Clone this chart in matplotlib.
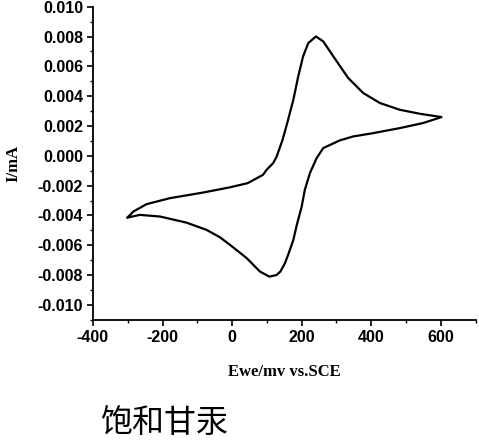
import numpy as np
import matplotlib.pyplot as plt
from matplotlib.ticker import MultipleLocator, FormatStrFormatter

plt.rcParams['axes.unicode_minus'] = False

# ============================================================
# DATOS - voltamperograma cíclico
# ============================================================

# barrido anódico (de -300 mV hacia +600 mV)
E_ida = [-301, -284, -246, -179, -83, -6, 45, 89, 99, 118, 128, 145,
         161, 176, 190, 204, 219, 241, 262, 291, 333, 377, 425, 482,
         540, 602]
I_ida = [-0.00414, -0.00374, -0.00324, -0.00284, -0.00246, -0.00211,
         -0.00183, -0.00127, -0.00094, -0.00049, -0.00005, 0.00107,
         0.00242, 0.00376, 0.00532, 0.00667, 0.00756, 0.00801,
         0.00767, 0.00667, 0.00524, 0.00421, 0.00354, 0.00309,
         0.00282, 0.00260]

# barrido catódico (regreso a -300 mV)
E_vuelta = [602, 549, 482, 405, 348, 310, 262, 243, 224, 209, 200, 186,
            176, 163, 152, 139, 128, 107, 80, 42, -6, -35, -73, -131,
            -207, -265, -301]
I_vuelta = [0.00260, 0.00220, 0.00186, 0.00152, 0.00130, 0.00104,
            0.00052, -0.00015, -0.00114, -0.00228, -0.00340, -0.00463,
            -0.00564, -0.00651, -0.00720, -0.00775, -0.00799, -0.00810,
            -0.00776, -0.00686, -0.00597, -0.00546, -0.00497, -0.00448,
            -0.00407, -0.00396, -0.00414]

E = np.array(E_ida + E_vuelta)
I = np.array(I_ida + I_vuelta)

# ============================================================
# GRÁFICA
# ============================================================

fig = plt.figure(figsize=(4.79, 4.48), dpi=100)
ax = fig.add_axes([0.194, 0.286, 0.799, 0.699])

ax.plot(E, I, color='black', linewidth=1.6,
        solid_joinstyle='round', solid_capstyle='round')

ax.set_xlim(-400, 700)
ax.set_ylim(-0.011, 0.010)

ax.xaxis.set_major_locator(MultipleLocator(200))
ax.xaxis.set_minor_locator(MultipleLocator(100))
ax.yaxis.set_major_locator(MultipleLocator(0.002))
ax.yaxis.set_minor_locator(MultipleLocator(0.001))
ax.yaxis.set_major_formatter(FormatStrFormatter('%.3f'))

for s in ['top', 'right']:
    ax.spines[s].set_visible(False)
for s in ['left', 'bottom']:
    ax.spines[s].set_linewidth(1.3)

ax.tick_params(which='major', direction='out', length=4, width=1.2,
               labelsize=11.5, pad=3)
ax.tick_params(which='minor', direction='out', length=2.5, width=1.0)

for lab in ax.get_xticklabels() + ax.get_yticklabels():
    lab.set_family('Liberation Sans')
    lab.set_fontweight('bold')

ax.set_xlabel("Ewe/mv vs.SCE", family='Liberation Serif',
              fontweight='bold', fontsize=12, labelpad=14)
ax.set_ylabel("I/mA", family='Liberation Serif',
              fontweight='bold', fontsize=12, labelpad=12)

fig.text(0.343, 0.055, "饱和甘汞", family=['Noto Sans CJK SC', 'DejaVu Sans'],
         fontsize=23, ha='center', va='center')

fig.savefig("out.png", dpi=100)
